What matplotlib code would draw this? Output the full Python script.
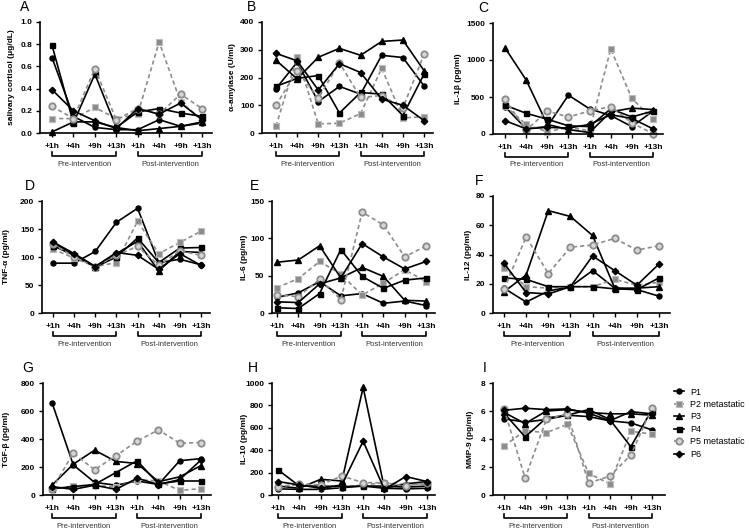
import matplotlib.pyplot as plt
import matplotlib.transforms as mtransforms

plt.rcParams['font.family'] = ['Liberation Sans', 'DejaVu Sans']

timepoints = ['+1h', '+4h', '+9h', '+13h', '+1h', '+4h', '+9h', '+13h']
patients = ['P1', 'P2 metastatic', 'P3', 'P4', 'P5 metastatic', 'P6']

# rows: P1..P6, columns: the eight sampling times
cortisol = [[0.68, 0.15, 0.05, 0.03, 0.03, 0.12, 0.06, 0.09],
            [0.13, 0.13, 0.23, 0.13, 0.17, 0.82, 0.28, 0.12],
            [0.01, 0.10, 0.10, 0.05, 0.02, 0.04, 0.06, 0.10],
            [0.79, 0.09, 0.53, 0.05, 0.19, 0.22, 0.18, 0.15],
            [0.24, 0.13, 0.58, 0.12, 0.22, 0.17, 0.35, 0.22],
            [0.39, 0.20, 0.11, 0.04, 0.22, 0.17, 0.27, 0.12]]
amylase = [[160, 255, 113, 168, 140, 280, 272, 170],
           [25, 273, 33, 35, 70, 233, 55, 58],
           [262, 195, 273, 305, 280, 330, 335, 225],
           [168, 197, 207, 72, 146, 140, 63, 212],
           [100, 225, 125, 253, 128, 135, 90, 283],
           [287, 260, 155, 250, 218, 122, 100, 45]]
il1b = [[370, 70, 100, 525, 340, 250, 100, 310],
        [380, 130, 30, 90, 45, 1150, 480, 200],
        [1165, 730, 130, 60, 20, 300, 350, 330],
        [390, 280, 200, 110, 100, 340, 230, 310],
        [470, 50, 310, 230, 310, 370, 150, 5],
        [180, 70, 90, 80, 130, 260, 210, 70]]
tnfa = [[89, 89, 110, 162, 187, 90, 96, 86],
        [114, 98, 83, 90, 164, 106, 126, 146],
        [125, 105, 83, 106, 128, 75, 110, 108],
        [120, 103, 82, 100, 134, 90, 116, 117],
        [123, 100, 83, 103, 119, 85, 111, 103],
        [127, 106, 83, 108, 103, 78, 106, 85]]
il6 = [[21, 27, 42, 23, 26, 13, 16, 10],
       [34, 46, 69, 52, 24, 40, 58, 42],
       [68, 71, 90, 47, 61, 49, 17, 16],
       [7, 6, 26, 85, 49, 33, 44, 47],
       [24, 22, 45, 18, 135, 118, 75, 90],
       [15, 14, 39, 47, 93, 75, 59, 69]]
il12 = [[17, 7.5, 15, 18, 29, 17, 16, 11.5],
        [31, 18, 17, 18, 18, 23, 19, 21],
        [14.5, 26, 70, 66, 53, 17, 17, 18],
        [24, 23, 18, 18, 18, 16.5, 16, 24],
        [16.5, 52, 27, 45, 46.5, 51, 43, 46],
        [34, 14, 13, 18, 39, 29, 19, 33.5]]
tgfb = [[660, 215, 90, 70, 100, 75, 245, 260],
        [40, 65, 70, 55, 110, 100, 33, 45],
        [70, 220, 320, 240, 225, 95, 130, 210],
        [45, 60, 75, 160, 245, 80, 100, 100],
        [40, 300, 180, 280, 385, 465, 370, 375],
        [60, 40, 70, 40, 120, 75, 110, 250]]
il10 = [[55, 50, 50, 65, 80, 60, 55, 60],
        [80, 90, 70, 70, 90, 110, 90, 100],
        [80, 60, 140, 125, 960, 60, 100, 120],
        [225, 80, 80, 75, 80, 80, 70, 80],
        [70, 100, 90, 170, 110, 110, 80, 110],
        [120, 90, 60, 90, 480, 50, 165, 120]]
mmp9 = [[5.45, 5.2, 5.4, 5.7, 5.6, 5.3, 5.15, 4.65],
        [3.5, 4.6, 4.45, 5.05, 1.55, 0.8, 4.55, 4.35],
        [5.9, 5.1, 6.0, 6.1, 5.9, 5.8, 5.8, 5.7],
        [5.85, 4.15, 5.5, 5.7, 6.1, 5.4, 3.45, 6.1],
        [6.15, 1.2, 5.4, 5.8, 0.85, 1.35, 2.85, 6.25],
        [6.05, 6.2, 6.1, 6.15, 5.85, 5.3, 5.95, 5.8]]

panels = [
    ('A', cortisol, 'salivary cortisol (μg/dL)', [0, 0.2, 0.4, 0.6, 0.8, 1.0], '{:.1f}'),
    ('B', amylase, 'α-amylase (U/ml)', [0, 100, 200, 300, 400], '{:.0f}'),
    ('C', il1b, 'IL-1β (pg/ml)', [0, 500, 1000, 1500], '{:.0f}'),
    ('D', tnfa, 'TNF-α (pg/ml)', [0, 50, 100, 150, 200], '{:.0f}'),
    ('E', il6, 'IL-6 (pg/ml)', [0, 50, 100, 150], '{:.0f}'),
    ('F', il12, 'IL-12 (pg/ml)', [0, 20, 40, 60, 80], '{:.0f}'),
    ('G', tgfb, 'TGF-β (pg/ml)', [0, 200, 400, 600, 800], '{:.0f}'),
    ('H', il10, 'IL-10 (pg/ml)', [0, 200, 400, 600, 800, 1000], '{:.0f}'),
    ('I', mmp9, 'MMP-9 (pg/ml)', [0, 2, 4, 6, 8], '{:.0f}'),
]

# pixel layout: spine left, x of +1h, x of +13h, axis end, top, bottom, ylabel x, letter x
boxes = [
    (40, 52, 202, 212, 22, 133, 12, 25),
    (262, 276, 424, 433, 22, 133, 232, 252),
    (493, 505, 653, 663, 23, 134, 458, 483),
    (42, 53, 201, 210, 201, 313, 6, 30),
    (272, 277, 426, 435, 201, 313, 244, 255),
    (493, 504, 659, 670, 196, 313, 469, 479),
    (43, 52, 201, 211, 383, 495, 7, 28),
    (272, 278, 427, 435, 383, 495, 245, 253),
    (493, 504, 652, 665, 383, 495, 470, 485),
]

gray = '#8c8c8c'
styles = [
    dict(color='black', ls='-', marker='o', ms=3.6, mfc='black', mec='black'),
    dict(color=gray, ls=(0, (2.5, 1.8)), marker='s', ms=4.0, mfc=gray, mec='#bdbdbd', mew=0.8),
    dict(color='black', ls='-', marker='^', ms=3.8, mfc='black', mec='black'),
    dict(color='black', ls='-', marker='s', ms=3.6, mfc='black', mec='black'),
    dict(color=gray, ls=(0, (2.5, 1.8)), marker='o', ms=4.6, mfc='#d6d6d6', mec=gray, mew=1.3),
    dict(color='black', ls='-', marker='D', ms=3.3, mfc='black', mec='black'),
]

W, H = 749, 529
fig = plt.figure(figsize=(W / 100, H / 100), dpi=100)

for (letter, values, ylabel, yticks, fmt), box in zip(panels, boxes):
    left, x1, x13, right, top, bottom, ylab_x, letter_x = box
    ax = fig.add_axes([left / W, 1 - bottom / H, (right - left) / W, (bottom - top) / H])
    step = (x13 - x1) / 7
    ax.set_xlim(-(x1 - left) / step, 7 + (right - x13) / step)
    ax.set_ylim(yticks[0], yticks[-1])

    for row, st in zip(values, styles):
        ax.plot(range(len(timepoints)), row, lw=1.2, clip_on=False, **st)

    for s in ['top', 'right']:
        ax.spines[s].set_visible(False)
    for s in ['left', 'bottom']:
        ax.spines[s].set_linewidth(1.2)
    ax.tick_params(direction='out', length=3, width=1, pad=2.5)
    ax.tick_params(axis='x', pad=4.5)
    ax.set_xticks(range(len(timepoints)))
    ax.set_xticklabels(timepoints, fontsize=6, fontweight='bold')
    ax.set_yticks(yticks)
    ax.set_yticklabels([fmt.format(v) for v in yticks], fontsize=6, fontweight='bold')

    # brackets for the two phases
    trans = mtransforms.blended_transform_factory(ax.transData, ax.transAxes)
    h = bottom - top
    y0 = -23 / h
    y1 = -19 / h
    for a, b, name in [(0, 3, 'Pre-intervention'), (4, 7, 'Post-intervention')]:
        ax.plot([a, a, b, b], [y1, y0, y0, y1], color='black', lw=1.2,
                transform=trans, clip_on=False)
        ax.text((a + b) / 2, -31 / h, name, transform=trans, ha='center', va='center',
                fontsize=5.5, color='#333333')

    fig.text(ylab_x / W, 1 - (top + bottom) / 2 / H, ylabel, rotation=90,
             ha='center', va='center', fontsize=6, fontweight='bold')
    fig.text(letter_x / W, 1 - (top - 15) / H, letter, ha='center', va='center', fontsize=10)

    if letter == 'I':
        handles = ax.get_lines()[:6]

fig.legend(handles, patients, loc='upper left', bbox_to_anchor=(670 / W, 1 - 384 / H),
           frameon=False, fontsize=6.5, handlelength=1.2, labelspacing=0.38,
           handletextpad=0.6, borderaxespad=0)

fig.savefig('out.png', dpi=100)
